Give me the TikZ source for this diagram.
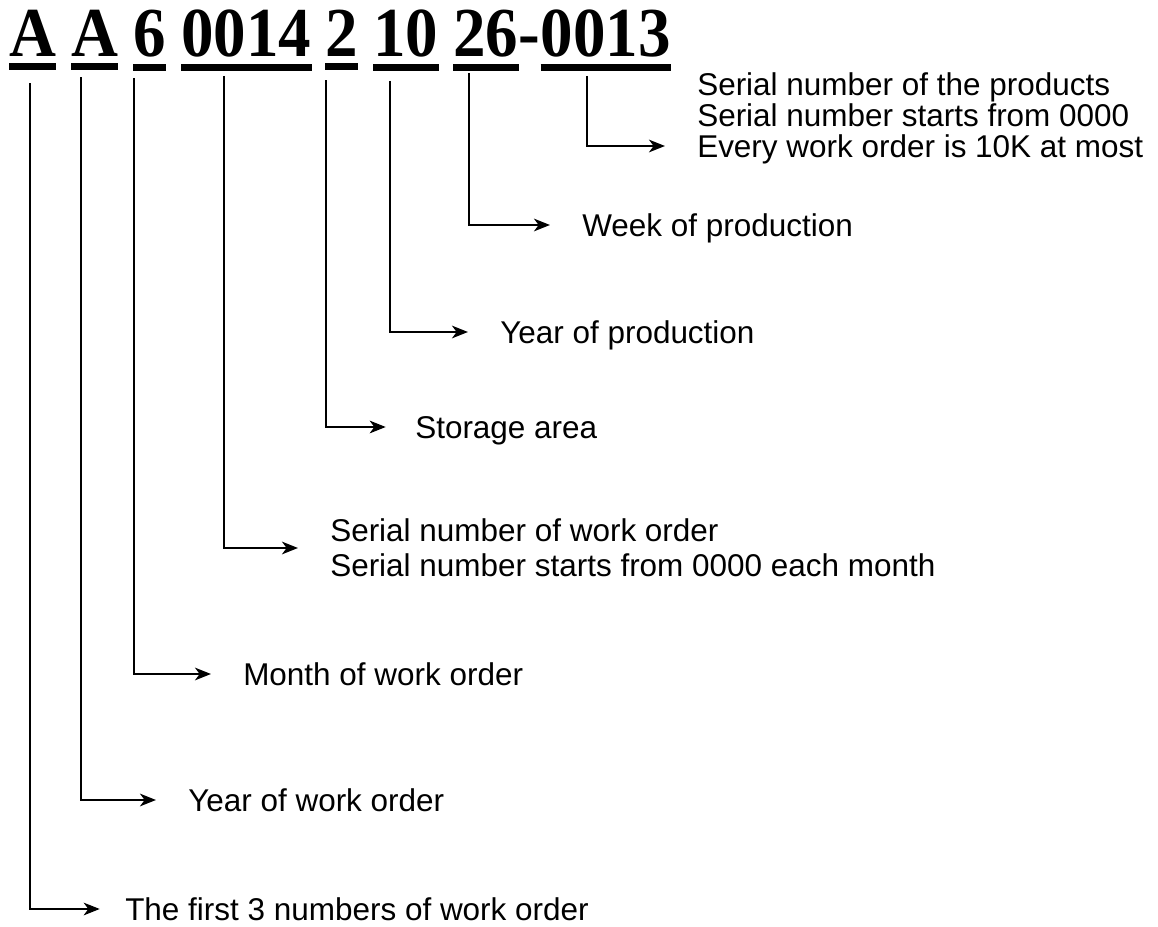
\documentclass[tikz,border=0pt]{standalone}
\usepackage{fontspec}
\setmainfont{Liberation Serif}
\newfontfamily\lblfont{Liberation Sans}
\usetikzlibrary{arrows.meta}

\newcommand{\tallcode}[1]{\scalebox{1}[1.08]{#1}}

\tikzset{
    code/.style={anchor=base west, inner sep=0pt, font=\fontsize{48.75}{50}\selectfont\bfseries},
    lblbase/.style={anchor=west, inner sep=0pt, align=left, font=\lblfont\fontsize{23.6}{24}\selectfont},
    lbl/.style={lblbase, text height=16.9pt, text depth=0pt},
    uline/.style={line width=5.2pt},
    conn/.style={line width=1.4pt, -{Stealth[length=12pt,width=9.5pt,inset=3.5pt]}, shorten >=24pt}
}

\begin{document}
\begin{tikzpicture}[x=0.75pt,y=-0.75pt]
    \useasboundingbox (0,0) rectangle (1158,927);
    %\draw[help lines] (0,0) grid[step=50] (1158,927);

    % the code itself
    \node[code] (c1) at (9,57) {\tallcode{A}};
    \node[code] (c2) at (71,57) {\tallcode{A}};
    \node[code] (c3) at (133,57) {\tallcode{6}};
    \node[code] (c4) at (181,57) {\tallcode{0014}};
    \node[code] (c5) at (325,57) {\tallcode{2}};
    \node[code] (c6) at (373,57) {\tallcode{10}};
    \node[code] (c7) at (453,57) {\tallcode{26}};
    \node[code] (hyph) at (c7.base east) {\tallcode{-}};
    \node[code] (c8) at (hyph.base east) {\tallcode{0013}};
    \foreach \n in {c1,c2,c3,c4,c5,c6,c7,c8}
        \draw[uline] ([shift={(0,9.5)}]\n.south west) -- ([shift={(0,9.5)}]\n.south east);

    % meanings
    \node[lbl] (l1) at (125,909) {The first 3 numbers of work order};
    \node[lbl] (l2) at (188,800) {Year of work order};
    \node[lbl] (l3) at (243,674) {Month of work order};
    \node[lblbase] (l4) at (330,548) {Serial number of work order\\[2pt]Serial number starts from 0000 each month};
    \node[lbl] (l5) at (415,427) {Storage area};
    \node[lbl] (l6) at (500,332) {Year of production};
    \node[lbl] (l7) at (582,225) {Week of production};
    \node[lbl] (l8a) at (697,84) {Serial number of the products};
    \node[lbl] (l8b) at (697,115) {Serial number starts from 0000};
    \node[lbl] (l8c) at (697,146) {Every work order is 10K at most};

    \draw[conn, shorten >=19pt] ([shift={(21,26)}]c1.south west) |- (l1);
    \draw[conn] ([shift={(10,20)}]c2.south west) |- (l2);
    \draw[conn] ([shift={(1,20)}]c3.south west) |- (l3);
    \draw[conn] ([shift={(43,18)}]c4.south west) |- (l4);
    \draw[conn, shorten >=22pt] ([shift={(1,23)}]c5.south west) |- (l5);
    \draw[conn] ([shift={(17,23)}]c6.south west) |- (l6);
    \draw[conn] ([shift={(16,15)}]c7.south west) |- (l7);
    \draw[conn] ([shift={(46,18)}]c8.south west) |- (l8c);

\end{tikzpicture}
\end{document}
